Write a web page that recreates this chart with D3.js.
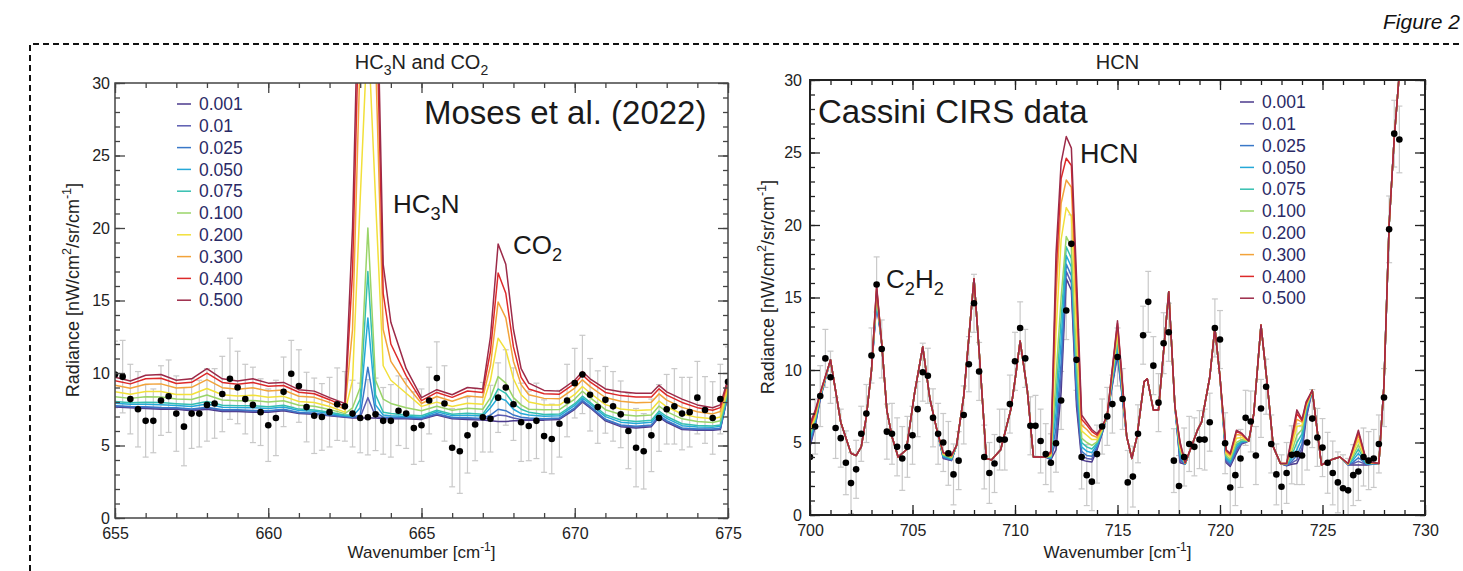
<!DOCTYPE html>
<html>
<head>
<meta charset="utf-8">
<script src="https://cdn.jsdelivr.net/npm/d3@7"></script>
<style>
  body { margin: 0; background: #fff; }
  svg text { font-family: 'Liberation Sans', Arial, sans-serif; }
</style>
</head>
<body>
<svg id="chart" width="1463" height="571"></svg>
<script>
// ---- legend / series ------------------------------------------------------
const seriesLabels = ['0.001', '0.01', '0.025', '0.050', '0.075', '0.100', '0.200', '0.300', '0.400', '0.500']
const seriesColors = ['#4b3a8c', '#5b5cb0', '#3a78c8', '#25a8d8', '#34bfb0', '#9ad468', '#f2e03a', '#f2a33a', '#dd2a2a', '#9c2a48']

// ---- left panel (HC3N and CO2), model grid --------------------------------
const leftX = [655, 655.5, 656, 656.5, 657, 657.5, 658, 658.5, 659, 659.5, 660, 660.5, 661, 661.5, 662, 662.5, 662.75, 663, 663.25, 663.5,
  663.75, 664, 664.5, 665, 665.5, 666, 666.5, 667, 667.25, 667.5, 667.75, 668, 668.25, 668.5, 669, 669.5, 670, 670.25, 670.5, 671,
  671.5, 672, 672.5, 672.75, 673, 673.5, 674, 674.5, 674.75, 675]

const left001 = [7.65, 7.60, 7.55, 7.50, 7.50, 7.40, 7.50, 7.35, 7.35, 7.30, 7.30, 7.40, 7.20, 7.15, 7.05, 6.95, 6.90, 6.90, 6.90, 6.90,
  6.85, 6.85, 6.85, 6.80, 7.10, 6.85, 6.80, 6.75, 6.70, 6.65, 6.65, 6.70, 6.70, 6.75, 6.75, 6.80, 7.50, 8.00, 7.60, 6.70,
  6.30, 6.20, 6.30, 6.95, 6.60, 6.10, 6.05, 6.05, 6.10, 8.50]
const left010 = [7.71, 7.66, 7.62, 7.57, 7.56, 7.47, 7.58, 7.42, 7.41, 7.37, 7.36, 7.46, 7.25, 7.20, 7.09, 6.98, 6.93, 6.95, 8.30, 7.00,
  6.90, 6.90, 6.90, 6.85, 7.15, 6.90, 6.87, 6.81, 6.90, 7.10, 7.05, 6.90, 6.80, 6.80, 6.81, 6.86, 7.56, 8.06, 7.66, 6.77,
  6.37, 6.27, 6.37, 7.02, 6.66, 6.16, 6.10, 6.10, 6.15, 8.53]
const left025 = [7.75, 7.69, 7.67, 7.62, 7.60, 7.51, 7.64, 7.46, 7.46, 7.42, 7.40, 7.50, 7.28, 7.23, 7.11, 7.00, 6.95, 7.10, 10.4, 7.30,
  6.95, 6.95, 6.93, 6.90, 7.19, 6.93, 6.91, 6.86, 7.10, 7.50, 7.40, 7.10, 6.95, 6.90, 6.85, 6.90, 7.60, 8.11, 7.70, 6.81,
  6.42, 6.32, 6.42, 7.06, 6.71, 6.21, 6.14, 6.13, 6.19, 8.56]
const left050 = [7.92, 7.84, 7.85, 7.81, 7.76, 7.69, 7.86, 7.64, 7.62, 7.60, 7.56, 7.65, 7.41, 7.36, 7.21, 7.05, 7.00, 7.60, 13.8, 7.80,
  7.10, 7.05, 7.00, 6.95, 7.33, 7.06, 7.09, 7.03, 7.60, 8.30, 8.10, 7.50, 7.20, 7.10, 7.02, 7.05, 7.76, 8.27, 7.86, 6.99,
  6.61, 6.51, 6.60, 7.24, 6.87, 6.37, 6.28, 6.25, 6.32, 8.64]
const left075 = [8.04, 7.95, 7.99, 7.96, 7.88, 7.82, 8.03, 7.78, 7.75, 7.74, 7.68, 7.77, 7.51, 7.45, 7.29, 7.10, 7.10, 8.20, 17.0, 8.50,
  7.30, 7.20, 7.10, 7.05, 7.43, 7.16, 7.22, 7.16, 7.90, 8.90, 8.60, 7.90, 7.50, 7.30, 7.14, 7.17, 7.88, 8.40, 7.98, 7.12,
  6.76, 6.66, 6.74, 7.37, 7.00, 6.50, 6.38, 6.34, 6.42, 8.71]
const left100 = [8.37, 8.25, 8.36, 8.34, 8.20, 8.17, 8.48, 8.14, 8.09, 8.11, 8.00, 8.08, 7.78, 7.71, 7.49, 7.20, 7.60, 9.00, 20.0, 9.50,
  8.20, 7.90, 7.60, 7.40, 7.71, 7.43, 7.57, 7.50, 8.30, 9.75, 9.30, 8.30, 7.80, 7.50, 7.47, 7.48, 8.20, 8.74, 8.30, 7.47,
  7.14, 7.04, 7.11, 7.72, 7.34, 6.84, 6.66, 6.59, 6.70, 8.89]
const left200 = [8.70, 8.54, 8.72, 8.72, 8.52, 8.52, 8.93, 8.50, 8.42, 8.47, 8.32, 8.39, 8.04, 7.97, 7.69, 7.30, 9.50, 22.0, 34.0, 22.0,
  10.5, 9.50, 8.60, 7.70, 7.99, 7.69, 7.92, 7.85, 9.50, 12.4, 11.6, 9.60, 8.50, 8.00, 7.80, 7.79, 8.52, 9.07, 8.62, 7.82,
  7.52, 7.42, 7.47, 8.07, 7.67, 7.17, 6.94, 6.84, 6.97, 9.06]
const left300 = [9.15, 8.95, 9.23, 9.25, 8.96, 9.01, 9.54, 8.99, 8.88, 8.98, 8.76, 8.82, 8.40, 8.32, 7.96, 7.50, 13.0, 32.0, 42.0, 32.0,
  13.0, 10.8, 9.20, 7.90, 8.38, 8.05, 8.41, 8.32, 10.5, 14.9, 13.8, 10.8, 9.20, 8.50, 8.25, 8.22, 8.96, 9.53, 9.06, 8.31,
  8.05, 7.95, 7.98, 8.56, 8.13, 7.63, 7.33, 7.18, 7.34, 9.30]
const left400 = [9.47, 9.25, 9.60, 9.64, 9.28, 9.36, 9.99, 9.35, 9.22, 9.35, 9.08, 9.14, 8.67, 8.57, 8.16, 7.70, 17.0, 38.0, 48.0, 38.0,
  15.5, 12.0, 9.80, 8.10, 8.66, 8.32, 8.76, 8.66, 11.5, 16.9, 15.5, 11.8, 9.70, 8.90, 8.57, 8.54, 9.28, 9.87, 9.38, 8.66,
  8.44, 8.34, 8.35, 8.91, 8.47, 7.97, 7.61, 7.43, 7.61, 9.48]
const left500 = [9.70, 9.45, 9.85, 9.90, 9.50, 9.60, 10.3, 9.60, 9.45, 9.60, 9.30, 9.35, 8.85, 8.75, 8.30, 7.90, 20.0, 42.0, 50.0, 42.0,
  17.5, 13.5, 10.3, 8.30, 8.85, 8.50, 9.00, 8.90, 12.5, 18.9, 17.5, 13.0, 10.3, 9.30, 8.80, 8.75, 9.50, 10.1, 9.60, 8.90,
  8.70, 8.60, 8.60, 9.15, 8.70, 8.20, 7.80, 7.60, 7.80, 9.60]

// observed CIRS points, 655..675 every 0.25 cm-1
const leftObs = [9.9, 9.75, 8.2, 7.5, 6.7, 6.7, 8.1, 8.4, 7.2, 6.3,
  7.2, 7.2, 7.8, 7.9, 8.55, 9.6, 9.0, 8.2, 7.8, 7.3,
  6.4, 6.9, 8.7, 9.95, 9.1, 7.65, 7.05, 6.97, 7.3, 7.85,
  7.7, 7.2, 6.9, 6.95, 7.15, 6.7, 6.7, 7.4, 7.2, 6.2,
  6.4, 8.1, 9.65, 7.9, 4.85, 4.6, 5.7, 6.45, 6.95, 6.85,
  8.3, 9.0, 7.85, 6.6, 6.35, 6.7, 5.65, 5.45, 6.5, 8.1,
  9.3, 9.9, 8.5, 7.65, 8.15, 7.7, 7.15, 6.0, 4.85, 4.6,
  5.7, 6.9, 7.5, 7.7, 7.2, 7.3, 8.3, 7.45, 6.9, 8.2,
  9.4]
const leftErr = [2.3, 2.5, 2.4, 2.6, 2.5, 2.2, 2.4, 2.5, 2.6, 2.7,
  2.4, 2.3, 2.5, 2.4, 2.6, 2.8, 2.5, 2.4, 2.6, 2.3,
  2.5, 2.6, 2.4, 2.3, 2.5, 2.4, 2.6, 2.3, 2.4, 2.5,
  2.4, 2.3, 2.4, 2.6, 2.5, 2.3, 2.5, 2.4, 2.4, 2.5,
  2.5, 2.3, 2.5, 2.6, 2.7, 2.9, 2.6, 2.5, 2.4, 2.3,
  2.4, 2.6, 2.5, 2.7, 2.4, 2.6, 2.5, 2.4, 2.3, 2.5,
  2.4, 2.7, 2.5, 2.5, 2.3, 2.4, 2.3, 2.6, 2.7, 2.6,
  2.5, 2.3, 2.4, 2.6, 2.5, 2.4, 2.5, 2.3, 2.5, 2.4,
  2.4]

// ---- right panel (HCN) -----------------------------------------------------
// shared model curve: all ten runs coincide here
const rightX = [700, 700.25, 700.5, 701, 701.5, 702, 702.25, 702.5, 702.75, 703,
  703.25, 703.5, 703.75, 704, 704.3, 704.7, 705.1, 705.5, 705.85, 706.2,
  706.5, 706.9, 707.15, 707.5, 708, 708.3, 708.6, 708.85, 709.3, 709.8,
  710.05, 710.25, 710.6, 710.9, 711.5, 711.75, 712, 712.25, 712.5, 712.75,
  713, 713.25, 713.5, 713.75, 714, 714.25, 714.5, 715, 715.45, 715.7,
  715.95, 716.3, 716.45, 716.75, 717, 717.5, 717.8, 718.05, 718.3, 718.55,
  718.9, 719.1, 719.5, 719.75, 720, 720.3, 720.5, 720.8, 721.05, 721.4,
  721.65, 722, 722.3, 722.6, 722.95, 723.25, 723.5, 723.75, 724, 724.2,
  724.5, 724.95, 725.5, 725.85, 726.25, 726.5, 726.75, 727.15, 727.75, 728,
  728.25, 728.5, 728.75, 729]
const rightShared = [6.3, 7.2, 8.45, 10.7, 6.4, 4.25, 4.1, 4.7, 6.8, 10.0,
  15.8, 11.8, 7.2, 5.4, 4.0, 4.5, 8.4, 11.6, 8.0, 5.8,
  4.3, 4.1, 4.8, 8.2, 16.3, 10.3, 3.9, 3.8, 4.5, 7.3,
  9.8, 12.0, 8.6, 4.0, 4.0, 4.4, 18, 24.3, 26.1, 25.3,
  16.5, 6.9, 6.4, 5.9, 5.6, 6.1, 6.9, 13.4, 5.4, 3.9,
  5.4, 9.2, 9.4, 7.25, 7.25, 15.4, 7.5, 5.05, 3.6, 4.5,
  5.85, 6.4, 9.5, 12.9, 9.5, 4.5, 4.25, 5.85, 5.65, 5.1,
  7.0, 13.1, 9.1, 4.7, 3.55, 3.55, 5.4, 7.25, 6.6, 7.8,
  8.6, 3.45, 3.85, 4.0, 3.55, 4.7, 5.85, 3.7, 3.55, 9.0,
  20, 26, 30.5, 42]

// wavenumbers where the runs separate, and each run's value there
const rightSplitX = [700, 700.25, 700.5, 703.25, 706.5, 706.9, 711.75, 712, 712.25, 712.5,
  712.75, 713, 713.25, 713.5, 713.75, 714, 714.25, 715, 718.05, 718.3,
  720.3, 720.5, 720.8, 721.05, 723.25, 723.5, 723.75, 724, 724.2, 726.25,
  726.5, 726.75, 727.15]
const right001 = [4.7, 6.1, 8.0, 14.6, 3.9, 3.75, 3.8, 4.5, 8.5, 16.3, 15.5, 7.5, 3.8, 3.7, 3.65, 4.5, 5.6, 11.0, 3.6, 3.5,
  3.6, 3.35, 4.25, 4.9, 3.4, 3.5, 3.55, 4.3, 6.6, 3.45, 3.45, 3.45, 3.45]
const right010 = [4.85, 6.2, 8.05, 14.7, 3.95, 3.78, 3.85, 5.2, 9.5, 16.8, 16.0, 8.0, 4.1, 3.9, 3.85, 4.6, 5.65, 11.2, 3.75, 3.5,
  3.7, 3.45, 4.4, 4.95, 3.42, 3.6, 3.8, 4.6, 6.8, 3.46, 3.55, 3.7, 3.48]
const right025 = [5.0, 6.3, 8.1, 14.8, 4.0, 3.8, 3.9, 6.0, 10.5, 17.3, 16.5, 8.6, 4.4, 4.1, 4.05, 4.7, 5.7, 11.4, 3.9, 3.5,
  3.8, 3.55, 4.55, 5.0, 3.45, 3.7, 4.1, 4.9, 7.0, 3.47, 3.65, 3.95, 3.5]
const right050 = [5.2, 6.45, 8.15, 14.95, 4.05, 3.85, 3.95, 7.0, 12, 17.9, 17.1, 9.3, 4.7, 4.4, 4.3, 4.85, 5.75, 11.7, 4.1, 3.52,
  3.9, 3.65, 4.7, 5.05, 3.48, 3.9, 4.5, 5.3, 7.2, 3.48, 3.8, 4.25, 3.53]
const right075 = [5.4, 6.55, 8.2, 15.1, 4.1, 3.9, 4.0, 8.2, 13.5, 18.5, 17.7, 10.0, 5.0, 4.7, 4.55, 4.95, 5.8, 12.0, 4.3, 3.54,
  4.0, 3.75, 4.85, 5.1, 3.5, 4.1, 5.0, 5.6, 7.3, 3.5, 3.95, 4.55, 3.56]
const right100 = [5.6, 6.65, 8.25, 15.25, 4.15, 3.95, 4.05, 9.5, 15, 19.2, 18.5, 10.8, 5.3, 5.0, 4.8, 5.05, 5.85, 12.3, 4.5, 3.55,
  4.1, 3.85, 5.0, 5.2, 3.52, 4.35, 5.5, 5.9, 7.4, 3.5, 4.1, 4.85, 3.6]
const right200 = [5.8, 6.8, 8.3, 15.45, 4.2, 4.0, 4.15, 12.5, 19, 21.2, 20.6, 12.8, 5.8, 5.5, 5.2, 5.2, 5.9, 12.7, 4.7, 3.57,
  4.25, 4.0, 5.3, 5.35, 3.55, 4.7, 6.1, 6.2, 7.5, 3.52, 4.3, 5.2, 3.63]
const right300 = [6.0, 6.95, 8.35, 15.6, 4.25, 4.05, 4.2, 15, 21.5, 23.1, 22.6, 14.3, 6.2, 5.9, 5.5, 5.35, 6.0, 13.0, 4.85, 3.6,
  4.35, 4.1, 5.55, 5.5, 3.55, 5.0, 6.6, 6.4, 7.6, 3.53, 4.5, 5.5, 3.66]
const right400 = [6.15, 7.05, 8.4, 15.7, 4.3, 4.1, 4.3, 16.5, 23.2, 24.6, 24.1, 15.4, 6.6, 6.2, 5.75, 5.5, 6.05, 13.2, 4.95, 3.6,
  4.45, 4.2, 5.75, 5.6, 3.55, 5.2, 7.0, 6.5, 7.7, 3.55, 4.6, 5.7, 3.68]
const right500 = [6.3, 7.2, 8.45, 15.8, 4.3, 4.1, 4.4, 18, 24.3, 26.1, 25.3, 16.5, 6.9, 6.4, 5.9, 5.6, 6.1, 13.4, 5.05, 3.6,
  4.5, 4.25, 5.85, 5.65, 3.55, 5.4, 7.25, 6.6, 7.8, 3.55, 4.7, 5.85, 3.7]

// observed CIRS points, 700..728.75 every 0.25 cm-1
const rightObs = [4.0, 6.1, 8.2, 10.8, 9.5, 6.0, 5.3, 3.6, 2.2, 3.15,
  5.6, 7.0, 11.0, 15.9, 11.45, 5.75, 5.6, 4.7, 3.9, 4.7,
  5.5, 7.3, 9.85, 9.6, 6.7, 5.6, 5.0, 4.25, 2.8, 3.75,
  6.9, 10.4, 14.6, 9.9, 4.0, 2.9, 3.55, 5.2, 5.2, 7.65,
  10.6, 12.9, 10.8, 6.15, 6.15, 5.1, 4.2, 3.6, 4.95, 7.9,
  14.1, 18.7, 10.7, 4.0, 2.75, 2.3, 4.2, 6.1, 6.8, 7.65,
  10.9, 8.0, 2.25, 2.65, 5.6, 12.4, 14.7, 10.3, 7.75, 11.85,
  12.6, 3.75, 2.0, 4.0, 4.9, 4.7, 5.2, 5.2, 6.4, 12.9,
  12.1, 4.95, 1.9, 2.75, 3.9, 6.7, 6.45, 4.1, 7.35, 8.85,
  4.9, 2.8, 1.95, 2.9, 4.15, 4.2, 4.1, 5.0, 6.65, 5.35,
  4.65, 3.6, 2.9, 2.25, 1.85, 1.7, 2.75, 3.0, 4.0, 3.75,
  3.9, 4.9, 8.1, 19.7, 26.3, 25.9]
const rightErr = [2.0, 1.9, 2.1, 2.0, 1.8, 2.1, 2.0, 2.2, 2.1, 2.0,
  1.9, 2.0, 1.9, 1.9, 2.0, 1.9, 2.1, 2.0, 2.2, 2.1,
  2.0, 1.9, 2.0, 1.9, 2.0, 2.1, 2.0, 2.2, 2.1, 2.0,
  2.0, 1.9, 2.0, 2.0, 2.2, 2.1, 2.0, 2.1, 2.1, 2.0,
  2.0, 1.8, 2.0, 2.0, 2.1, 2.2, 2.1, 2.0, 2.0, 2.0,
  2.0, 2.0, 2.1, 2.2, 2.1, 2.0, 2.0, 1.9, 2.0, 2.0,
  2.0, 2.1, 2.2, 2.1, 2.0, 2.0, 2.1, 2.0, 2.0, 2.1,
  2.0, 2.2, 2.1, 2.0, 1.9, 2.0, 2.0, 2.1, 2.0, 2.0,
  2.0, 2.1, 2.2, 2.1, 2.0, 1.9, 2.1, 2.0, 2.0, 1.9,
  2.0, 2.1, 2.2, 2.1, 2.0, 2.1, 2.0, 1.9, 2.0, 2.0,
  2.0, 2.1, 2.2, 2.1, 2.3, 2.2, 2.1, 2.0, 2.0, 2.0,
  2.0, 2.0, 2.0, 2.3, 2.3, 2.3]

const yMajor = [0, 5, 10, 15, 20, 25, 30]

// ---------------------------------------------------------------------------
const svg = d3.select('#chart')

// build the series list for each panel
const leftSeries = [left001, left010, left025, left050, left075, left100, left200, left300, left400, left500]
  .map(vals => vals.map((v, i) => [leftX[i], v]))

const rightRuns = [right001, right010, right025, right050, right075, right100, right200, right300, right400, right500]
const rightSeries = rightRuns.map(run => rightX.map((w, i) => {
  const j = rightSplitX.indexOf(w)
  return [w, j >= 0 ? run[j] : rightShared[i]]
}))

const leftPoints = leftObs.map((v, i) => ({ w: 655 + i * 0.25, v, e: leftErr[i] }))
const rightPoints = rightObs.map((v, i) => ({ w: 700 + i * 0.25, v, e: rightErr[i] }))

// text with sub/superscripts: parts = [[text, 'sub'|'sup'|''], ...]
function rich (sel, parts, size) {
  let shift = 0
  parts.forEach(([t, kind]) => {
    const target = kind === 'sub' ? size * 0.28 : kind === 'sup' ? -size * 0.42 : 0
    sel.append('tspan')
      .attr('dy', target - shift)
      .attr('font-size', kind ? size * 0.7 : size)
      .text(t)
    shift = target
  })
  return sel
}

function drawPanel (cfg) {
  const x = d3.scaleLinear().domain(cfg.xDomain).range([cfg.left, cfg.right])
  const y = d3.scaleLinear().domain([0, 30]).range([cfg.bottom, cfg.top])

  const clipId = 'clip-' + cfg.key
  svg.append('clipPath').attr('id', clipId)
    .append('rect')
    .attr('x', cfg.left).attr('y', cfg.top)
    .attr('width', cfg.right - cfg.left).attr('height', cfg.bottom - cfg.top)

  const plot = svg.append('g').attr('clip-path', `url(#${clipId})`)

  // error bars
  const eb = plot.append('g').attr('stroke', '#c9c9c9').attr('stroke-width', 1.2)
  cfg.points.forEach(d => {
    const px = x(d.w)
    eb.append('line').attr('x1', px).attr('x2', px).attr('y1', y(d.v - d.e)).attr('y2', y(d.v + d.e))
    eb.append('line').attr('x1', px - 3).attr('x2', px + 3).attr('y1', y(d.v - d.e)).attr('y2', y(d.v - d.e))
    eb.append('line').attr('x1', px - 3).attr('x2', px + 3).attr('y1', y(d.v + d.e)).attr('y2', y(d.v + d.e))
  })

  // model runs
  const line = d3.line().x(d => x(d[0])).y(d => y(d[1]))
  cfg.series.forEach((s, k) => {
    plot.append('path')
      .datum(s)
      .attr('fill', 'none')
      .attr('stroke', seriesColors[k])
      .attr('stroke-width', 1.5)
      .attr('stroke-linejoin', 'round')
      .attr('d', line)
  })

  // observed points
  plot.append('g').selectAll('circle')
    .data(cfg.points)
    .join('circle')
    .attr('cx', d => x(d.w))
    .attr('cy', d => y(d.v))
    .attr('r', 3.3)
    .attr('fill', '#000')

  // frame
  svg.append('rect')
    .attr('x', cfg.left).attr('y', cfg.top)
    .attr('width', cfg.right - cfg.left).attr('height', cfg.bottom - cfg.top)
    .attr('fill', 'none').attr('stroke', cfg.frameColor).attr('stroke-width', cfg.frameWidth)

  const axes = svg.append('g')
  const tidy = g => {
    g.select('.domain').remove()
    g.selectAll('line').attr('stroke', cfg.frameColor).attr('stroke-width', 1.3)
    g.selectAll('text').attr('fill', '#222').attr('font-family', "'Liberation Sans', Arial, sans-serif").attr('font-size', 16)
  }
  const xMinor = d3.range(cfg.xDomain[0], cfg.xDomain[1] + 1, 1)
  const yMinor = d3.range(0, 31, 1)

  axes.append('g').attr('transform', `translate(0,${cfg.bottom})`)
    .call(d3.axisBottom(x).tickValues(xMinor).tickSize(-5).tickFormat('')).call(tidy)
  axes.append('g').attr('transform', `translate(0,${cfg.bottom})`)
    .call(d3.axisBottom(x).tickValues(cfg.xMajor).tickSizeInner(-10).tickSizeOuter(0).tickPadding(cfg.xPad).tickFormat(d3.format('d'))).call(tidy)
  axes.append('g').attr('transform', `translate(0,${cfg.top})`)
    .call(d3.axisTop(x).tickValues(xMinor).tickSize(-5).tickFormat('')).call(tidy)
  axes.append('g').attr('transform', `translate(0,${cfg.top})`)
    .call(d3.axisTop(x).tickValues(cfg.xMajor).tickSize(-10).tickFormat('')).call(tidy)

  axes.append('g').attr('transform', `translate(${cfg.left},0)`)
    .call(d3.axisLeft(y).tickValues(yMinor).tickSize(-5).tickFormat('')).call(tidy)
  axes.append('g').attr('transform', `translate(${cfg.left},0)`)
    .call(d3.axisLeft(y).tickValues(yMajor).tickSizeInner(-10).tickSizeOuter(0).tickPadding(cfg.yPad).tickFormat(d3.format('d'))).call(tidy)
  axes.append('g').attr('transform', `translate(${cfg.right},0)`)
    .call(d3.axisRight(y).tickValues(yMinor).tickSize(-5).tickFormat('')).call(tidy)
  axes.append('g').attr('transform', `translate(${cfg.right},0)`)
    .call(d3.axisRight(y).tickValues(yMajor).tickSize(-10).tickFormat('')).call(tidy)

  // titles
  const cx = (cfg.left + cfg.right) / 2
  rich(svg.append('text').attr('x', cx).attr('y', 69).attr('text-anchor', 'middle').attr('fill', '#222'), cfg.title, 20)
  rich(svg.append('text').attr('x', cx).attr('y', 558).attr('text-anchor', 'middle').attr('fill', '#222'),
    [['Wavenumber [cm', ''], ['-1', 'sup'], [']', '']], 17)
  rich(svg.append('text')
    .attr('transform', `translate(${cfg.yTitleX},${cfg.yTitleY}) rotate(-90)`)
    .attr('text-anchor', 'middle').attr('fill', '#222'),
  [['Radiance [nW/cm', ''], ['2', 'sup'], ['/sr/cm', ''], ['-1', 'sup'], [']', '']], 18)

  // legend
  const lg = svg.append('g')
  seriesLabels.forEach((lab, k) => {
    const ly = cfg.legendY + k * 21.8
    lg.append('line')
      .attr('x1', cfg.legendX).attr('x2', cfg.legendX + 14)
      .attr('y1', ly).attr('y2', ly)
      .attr('stroke', seriesColors[k]).attr('stroke-width', 1.5)
    lg.append('text')
      .attr('x', cfg.legendX + 22).attr('y', ly).attr('dy', '0.35em')
      .attr('font-size', 17.5).attr('fill', '#2a2a66')
      .text(lab)
  })

  // annotations
  cfg.notes.forEach(n => {
    rich(svg.append('text').attr('x', n.x).attr('y', n.y).attr('fill', '#1a1a1a'), n.parts, n.size)
  })
}

// dashed outline of the figure
svg.append('path')
  .attr('d', 'M30,571 L30,44 L1463,44')
  .attr('fill', 'none').attr('stroke', '#111').attr('stroke-width', 2).attr('stroke-dasharray', '6,4')

svg.append('text')
  .attr('x', 1460).attr('y', 29)
  .attr('text-anchor', 'end')
  .attr('font-family', "'Liberation Serif', 'DejaVu Serif', serif")
  .attr('font-style', 'italic').attr('font-size', 21).attr('fill', '#111')
  .text('Figure 2')

drawPanel({
  key: 'left',
  xDomain: [655, 675], xMajor: [655, 660, 665, 670, 675],
  left: 115, right: 728, top: 83, bottom: 518,
  xPad: 10, yPad: 5, yTitleX: 79, yTitleY: 290,
  frameColor: '#444', frameWidth: 1.5,
  series: leftSeries, points: leftPoints,
  title: [['HC', ''], ['3', 'sub'], ['N and CO', ''], ['2', 'sub']],
  legendX: 177, legendY: 104,
  notes: [
    { x: 424, y: 124, size: 33, parts: [['Moses et al. (2022)', '']] },
    { x: 393, y: 213, size: 26, parts: [['HC', ''], ['3', 'sub'], ['N', '']] },
    { x: 513, y: 254, size: 26, parts: [['CO', ''], ['2', 'sub']] }
  ]
})

drawPanel({
  key: 'right',
  xDomain: [700, 730], xMajor: [700, 705, 710, 715, 720, 725, 730],
  left: 810, right: 1425, top: 80, bottom: 515,
  xPad: 10, yPad: 8, yTitleX: 774, yTitleY: 287,
  frameColor: '#222', frameWidth: 2,
  series: rightSeries, points: rightPoints,
  title: [['HCN', '']],
  legendX: 1240, legendY: 102,
  notes: [
    { x: 818, y: 123, size: 33, parts: [['Cassini CIRS data', '']] },
    { x: 1080, y: 163, size: 27, parts: [['HCN', '']] },
    { x: 886, y: 288, size: 26, parts: [['C', ''], ['2', 'sub'], ['H', ''], ['2', 'sub']] }
  ]
})
</script>
</body>
</html>
